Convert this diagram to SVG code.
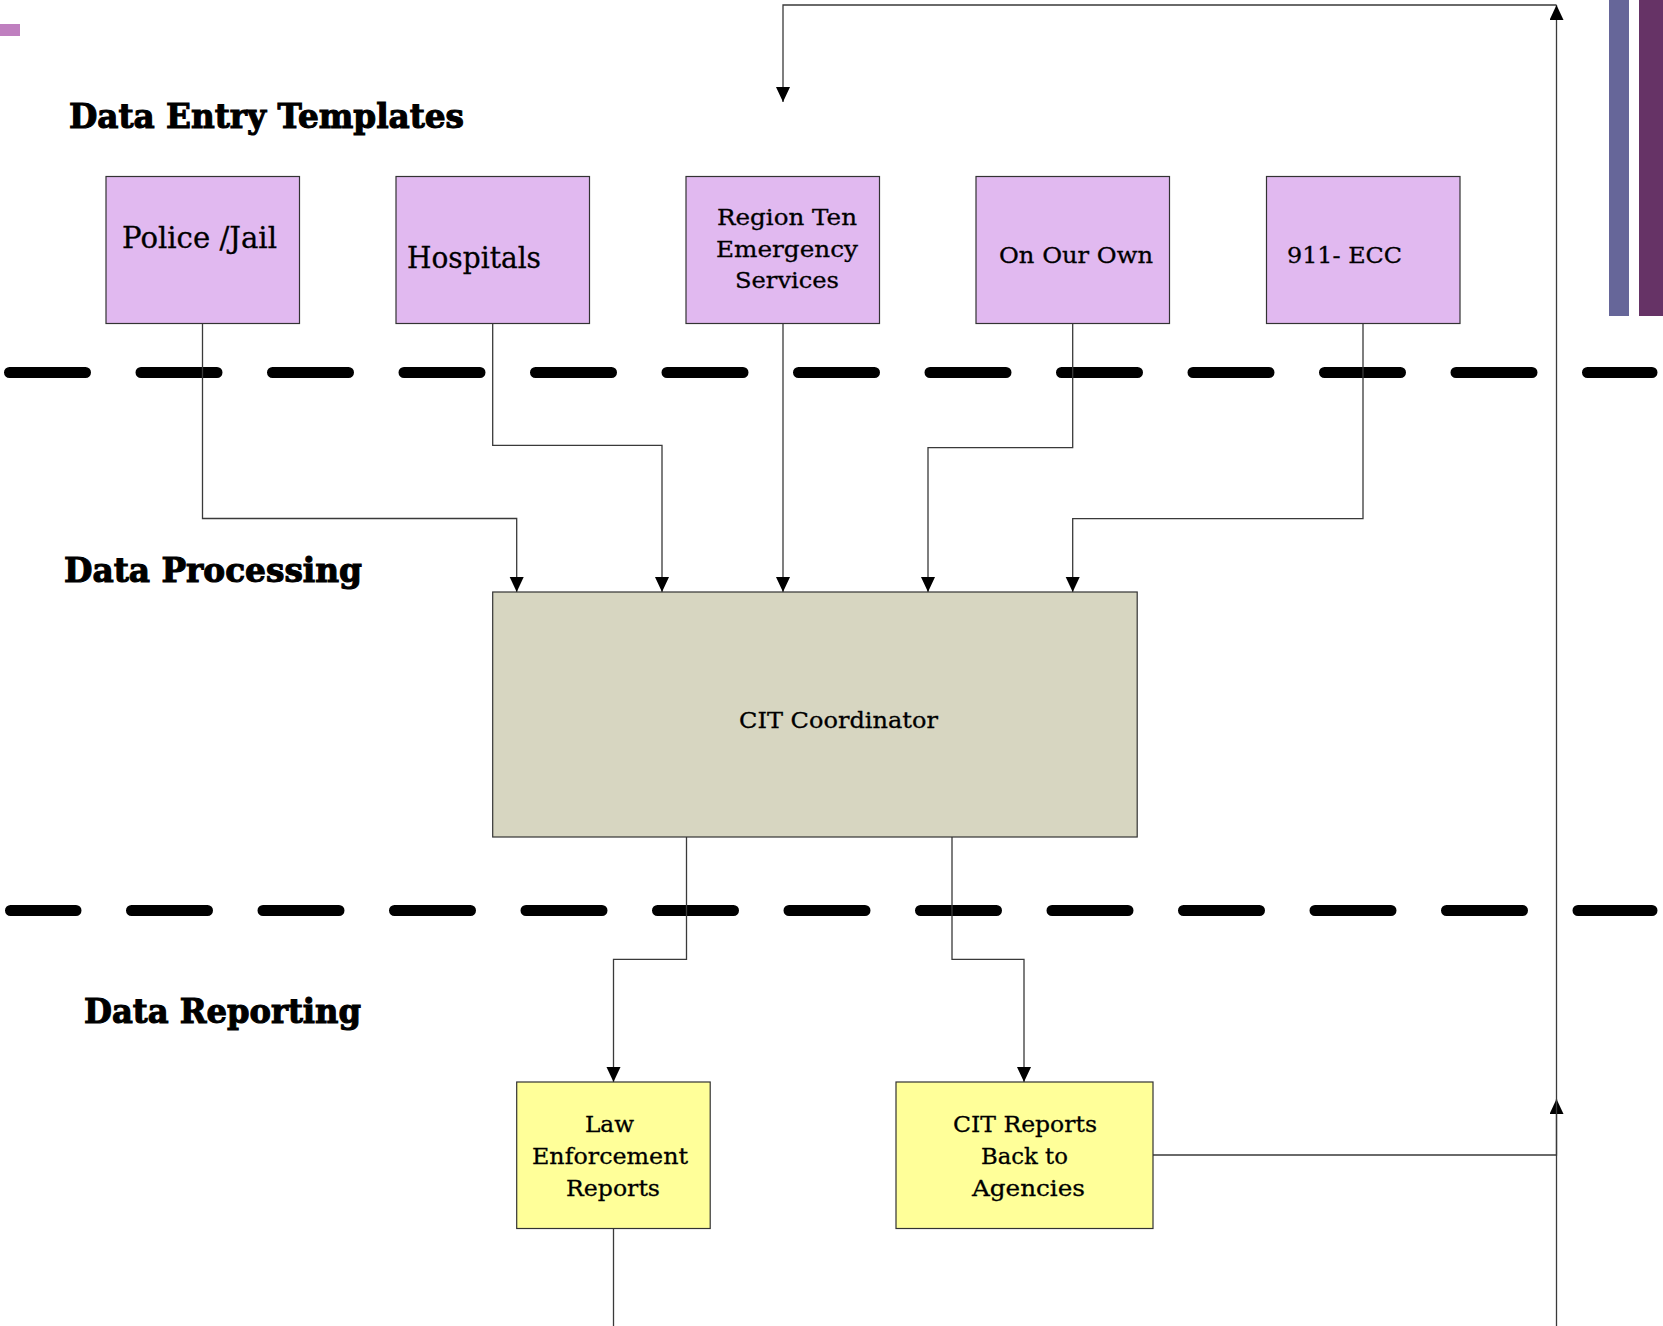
<svg xmlns="http://www.w3.org/2000/svg" width="1663" height="1326" viewBox="0 0 1663 1326">
<style>
.bg{fill:#ffffff}
.tpl{fill:#E1B9F0;stroke:#333333;stroke-width:1.2}
.proc{fill:#D7D6C1;stroke:#333333;stroke-width:1.2}
.rep{fill:#FFFF99;stroke:#333333;stroke-width:1.2}
.t{font-family:"DejaVu Serif","Liberation Serif",serif;fill:#000000;stroke:#000000;stroke-width:0.3}
.h{font-family:"DejaVu Serif","Liberation Serif",serif;font-weight:bold;font-size:33px;fill:#000000;stroke:#000000;stroke-width:1.1}
.conn{fill:none;stroke:#3a3a3a;stroke-width:1.3}
.dash{fill:none;stroke:#000000;stroke-width:11;stroke-linecap:round;stroke-dasharray:76 55.5}
</style>
<defs>
<marker id="arr" markerUnits="userSpaceOnUse" markerWidth="16" markerHeight="16" refX="15" refY="7" orient="auto">
<path d="M0,0 L15,7 L0,14 z" fill="#000000"/>
</marker>
</defs>
<rect class="bg" x="0" y="0" width="1663" height="1326"/>
<g id="decor">
<rect x="0" y="24" width="20" height="12" fill="#BF7FBF"/>
<rect x="1609" y="0" width="20" height="316" fill="#666699"/>
<rect x="1639" y="0" width="24" height="316" fill="#663366"/>
</g>
<g id="dividers">
<line class="dash" x1="9.5" y1="372.5" x2="1652" y2="372.5"/>
<line class="dash" x1="10.5" y1="910.5" x2="1652" y2="910.5" stroke-dashoffset="10.5"/>
</g>
<g id="labels">
<text class="h" x="69" y="128" textLength="395" lengthAdjust="spacingAndGlyphs">Data Entry Templates</text>
<text class="h" x="64" y="582" textLength="298" lengthAdjust="spacingAndGlyphs">Data Processing</text>
<text class="h" x="84" y="1023" textLength="277" lengthAdjust="spacingAndGlyphs">Data Reporting</text>
</g>
<g id="connectors">
<path class="conn" d="M202.5,323.5 V518.5 H516.7 V592" marker-end="url(#arr)"/>
<path class="conn" d="M492.7,323.5 V445.3 H662 V592" marker-end="url(#arr)"/>
<path class="conn" d="M783,323.5 V592" marker-end="url(#arr)"/>
<path class="conn" d="M1072.7,323.5 V447.7 H928 V592" marker-end="url(#arr)"/>
<path class="conn" d="M1363,323.5 V518.7 H1072.7 V592" marker-end="url(#arr)"/>
<path class="conn" d="M686.5,837 V959.3 H613.5 V1082" marker-end="url(#arr)"/>
<path class="conn" d="M952,837 V959.3 H1024 V1082" marker-end="url(#arr)"/>
<path class="conn" d="M613.5,1228.5 V1326"/>
<path class="conn" d="M1153,1155 H1556.5 V1099" marker-end="url(#arr)"/>
<path class="conn" d="M1556.5,1326 V5" marker-end="url(#arr)"/>
<path class="conn" d="M1556.5,5 H783 V102" marker-end="url(#arr)"/>
</g>
<g id="police">
<rect class="tpl" x="106" y="176.5" width="193.5" height="147"/>
<text class="t" x="122" y="248" font-size="29" textLength="155" lengthAdjust="spacingAndGlyphs">Police /Jail</text>
</g>
<g id="hospitals">
<rect class="tpl" x="396" y="176.5" width="193.5" height="147"/>
<text class="t" x="407" y="268" font-size="29" textLength="134" lengthAdjust="spacingAndGlyphs">Hospitals</text>
</g>
<g id="region-ten">
<rect class="tpl" x="686" y="176.5" width="193.5" height="147"/>
<text class="t" x="717" y="225" font-size="23" textLength="140" lengthAdjust="spacingAndGlyphs">Region Ten</text>
<text class="t" x="716" y="257" font-size="23" textLength="142" lengthAdjust="spacingAndGlyphs">Emergency</text>
<text class="t" x="735" y="288" font-size="23" textLength="104" lengthAdjust="spacingAndGlyphs">Services</text>
</g>
<g id="on-our-own">
<rect class="tpl" x="976" y="176.5" width="193.5" height="147"/>
<text class="t" x="999" y="263" font-size="23" textLength="154" lengthAdjust="spacingAndGlyphs">On Our Own</text>
</g>
<g id="ecc">
<rect class="tpl" x="1266.5" y="176.5" width="193.5" height="147"/>
<text class="t" x="1287" y="263" font-size="23" textLength="115" lengthAdjust="spacingAndGlyphs">911- ECC</text>
</g>
<g id="cit-coordinator">
<rect class="proc" x="492.7" y="592" width="644.5" height="245"/>
<text class="t" x="739" y="728" font-size="23" textLength="199" lengthAdjust="spacingAndGlyphs">CIT Coordinator</text>
</g>
<g id="law-enforcement-reports">
<rect class="rep" x="516.7" y="1082" width="193.5" height="146.5"/>
<text class="t" x="585" y="1132" font-size="23" textLength="49" lengthAdjust="spacingAndGlyphs">Law</text>
<text class="t" x="532" y="1164" font-size="23" textLength="156" lengthAdjust="spacingAndGlyphs">Enforcement</text>
<text class="t" x="566" y="1196" font-size="23" textLength="94" lengthAdjust="spacingAndGlyphs">Reports</text>
</g>
<g id="cit-reports">
<rect class="rep" x="896" y="1082" width="257" height="146.5"/>
<text class="t" x="953" y="1132" font-size="23" textLength="144" lengthAdjust="spacingAndGlyphs">CIT Reports</text>
<text class="t" x="981" y="1164" font-size="23" textLength="87" lengthAdjust="spacingAndGlyphs">Back to</text>
<text class="t" x="972" y="1196" font-size="23" textLength="113" lengthAdjust="spacingAndGlyphs">Agencies</text>
</g>
</svg>
